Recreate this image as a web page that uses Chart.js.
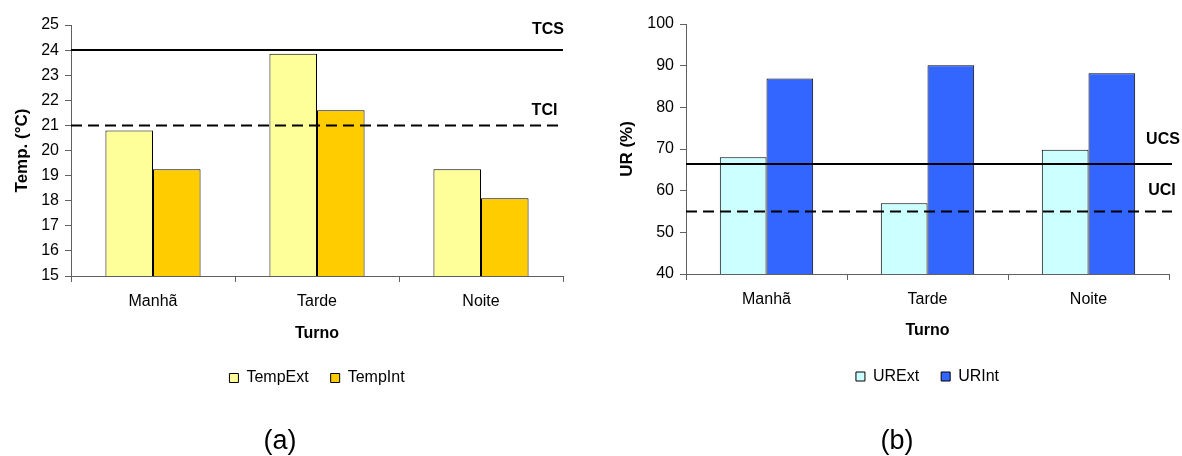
<!DOCTYPE html>
<html>
<head>
<meta charset="utf-8">
<script src="https://cdn.jsdelivr.net/npm/chart.js@4.4.1/dist/chart.umd.min.js"></script>
<style>
  body { margin: 0; background: #fff; width: 1182px; height: 456px; position: relative; overflow: hidden; }
  canvas { position: absolute; top: 0; }
  #chartA { left: 0; }
  #chartB { left: 591px; }
  .cap { position: absolute; top: 427px; width: 100px; text-align: center; font: 27px/27px "Liberation Sans", Arial, sans-serif; color: #000; }
</style>
</head>
<body>
<canvas id="chartA" width="591" height="456"></canvas>
<canvas id="chartB" width="591" height="456"></canvas>
<div class="cap" style="left:230px">(a)</div>
<div class="cap" style="left:847px">(b)</div>
<script>
// dados
const turnos = ['Manhã', 'Tarde', 'Noite'];
const tempExt = [20.8, 23.85, 19.25];
const tempInt = [19.25, 21.6, 18.1];
const urExt = [68, 57, 69.8];
const urInt = [86.9, 90.1, 88.2];
const tempLimits = [24, 21];
const tempLimitNames = ['TCS', 'TCI'];
const urLimits = [66.4, 55];
const urLimitNames = ['UCS', 'UCI'];

Chart.defaults.font.family = '"Liberation Sans", Arial, sans-serif';
Chart.defaults.color = '#000';

// linhas de limite (TCS/TCI, UCS/UCI)
const limitLines = {
    id: 'limitLines',
    afterDatasetsDraw(chart, args, opts) {
        const {ctx, chartArea, scales} = chart;
        opts.values.forEach((v, i) => {
            const y = scales.y.getPixelForValue(v);
            ctx.save();
            ctx.strokeStyle = '#000';
            ctx.lineWidth = 2;
            ctx.setLineDash(opts.dash[i]);
            ctx.beginPath();
            ctx.moveTo(chartArea.left, y);
            ctx.lineTo(chartArea.right + opts.overhang, y);
            ctx.stroke();
            ctx.setLineDash([]);
            ctx.font = 'bold 16px "Liberation Sans", Arial, sans-serif';
            ctx.fillStyle = '#000';
            ctx.textAlign = 'center';
            ctx.textBaseline = 'alphabetic';
            ctx.fillText(opts.names[i], chartArea.right + opts.dx[i], y - opts.dy[i]);
            ctx.restore();
        });
    }
};

function makeChart(id, o) {
    return new Chart(document.getElementById(id), {
        type: 'bar',
        data: {
            labels: turnos,
            datasets: o.series.map((s, i) => ({
                label: o.names[i],
                data: s,
                backgroundColor: o.colors[i],
                borderColor: '#000',
                borderWidth: 1,
                categoryPercentage: 0.58,
                barPercentage: 1
            }))
        },
        options: {
            responsive: false,
            animation: false,
            devicePixelRatio: 1,
            layout: { padding: { top: o.padTop, right: o.padRight, bottom: o.padBottom, left: 0 } },
            plugins: {
                legend: {
                    position: 'bottom',
                    fullSize: false,
                    labels: { boxWidth: 9, boxHeight: 9, padding: 22, font: { size: 16 }, color: '#000' }
                },
                tooltip: { enabled: false },
                limitLines: {
                    values: o.limits, names: o.limitNames,
                    dash: [[], [11, 6]], dx: o.dx, dy: o.dy, overhang: o.overhang
                }
            },
            scales: {
                x: {
                    grid: { offset: true, drawOnChartArea: false, tickLength: 6, color: '#606060' },
                    border: { color: '#606060' },
                    ticks: { font: { size: 16 }, padding: 10, color: '#000' },
                    title: {
                        display: true, text: 'Turno', color: '#000',
                        font: { size: 16, weight: 'bold' },
                        padding: { top: 0, bottom: o.xTitlePad }
                    },
                    afterFit: s => { s.height = o.xHeight; }
                },
                y: {
                    min: o.min,
                    max: o.max,
                    ticks: { stepSize: o.step, font: { size: 16 }, padding: 6, color: '#000' },
                    grid: { drawOnChartArea: false, tickLength: 6, color: '#606060' },
                    border: { color: '#606060' },
                    title: {
                        display: true, text: o.yTitle, color: '#000',
                        font: { size: 17, weight: 'bold' },
                        padding: { top: o.yTitlePad, bottom: 0 }
                    },
                    afterFit: s => { s.width = o.yWidth; }
                }
            }
        },
        plugins: [limitLines]
    });
}

makeChart('chartA', {
    series: [tempExt, tempInt],
    names: ['TempExt', 'TempInt'],
    colors: ['#FFFF99', '#FFCC00'],
    min: 15, max: 25, step: 1,
    yTitle: 'Temp. (°C)',
    yWidth: 71, yTitlePad: 11.8,
    padTop: 25, padRight: 28, padBottom: 60,
    xHeight: 72, xTitlePad: 4.5,
    limits: tempLimits, limitNames: tempLimitNames,
    dx: [-15, -18.5], dy: [16, 10.7], overhang: 0
});

makeChart('chartB', {
    series: [urExt, urInt],
    names: ['URExt', 'URInt'],
    colors: ['#CCFFFF', '#3366FF'],
    min: 40, max: 100, step: 10,
    yTitle: 'UR (%)',
    yWidth: 95, yTitlePad: 26.5,
    padTop: 24, padRight: 13, padBottom: 61.5,
    xHeight: 72.5, xTitlePad: 6,
    limits: urLimits, limitNames: urLimitNames,
    dx: [-6, -7], dy: [20, 17], overhang: 3
});
</script>
</body>
</html>
